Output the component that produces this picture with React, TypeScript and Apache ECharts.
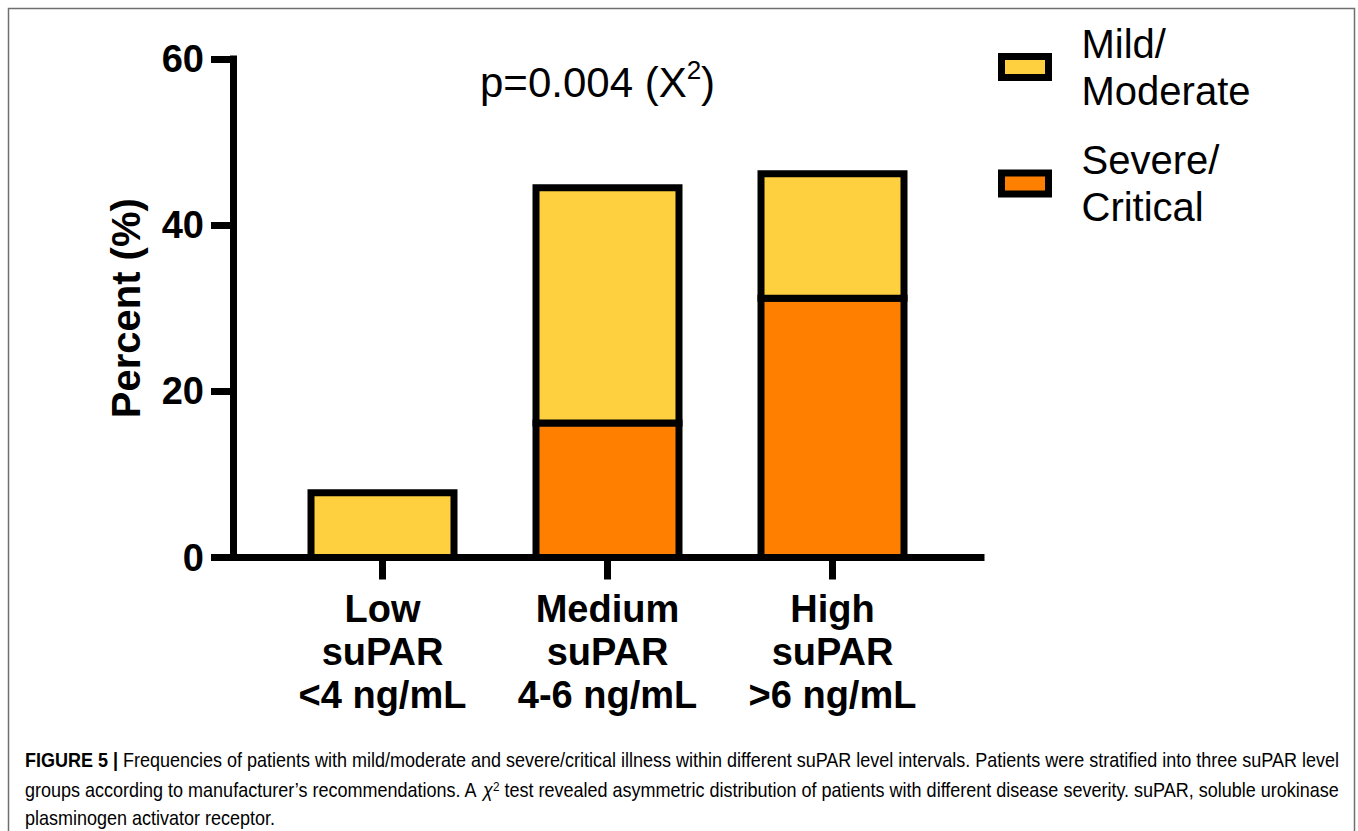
import React, { useEffect, useRef } from "react";
import * as echarts from "echarts";

const categories = ["Low\nsuPAR\n<4 ng/mL", "Medium\nsuPAR\n4-6 ng/mL", "High\nsuPAR\n>6 ng/mL"];
const severeCritical = [0, 16.2, 31.2];
const mildModerate = [7.8, 28.3, 15.0];
const yTicks = { min: 0, max: 60, interval: 20 };
const seriesNames = ["Mild/Moderate", "Severe/Critical"];
const pText = "p=0.004 (X";
const captionBold = "FIGURE 5 | ";
const captionLine1 =
  "Frequencies of patients with mild/moderate and severe/critical illness within different suPAR level intervals. Patients were stratified into three suPAR level";
const captionLine2a = "groups according to manufacturer\u2019s recommendations. A ";
const captionChi = "\u03c7";
const captionLine2b =
  " test revealed asymmetric distribution of patients with different disease severity. suPAR, soluble urokinase";
const captionLine3 = "plasminogen activator receptor.";

const FONT = "'Liberation Sans', Arial, Helvetica, sans-serif";
const YELLOW = "#FECF3E";
const ORANGE = "#FF8000";
const CAP_SIZE = 20;
const CAP_LEFT = 25;
const CAP_RIGHT = 1340;

function measure(text: string, font: string): number {
  const c = document.createElement("canvas").getContext("2d");
  if (!c) return text.length * 9;
  c.font = font;
  return c.measureText(text).width;
}

export default function App() {
  const ref = useRef<HTMLDivElement>(null);
  useEffect(() => {
    document.body.style.margin = "0";
    const chart = echarts.init(ref.current!, null, { renderer: "svg" });

    const regFont = `${CAP_SIZE}px ${FONT}`;
    const boldFont = `bold ${CAP_SIZE}px ${FONT}`;
    const target = CAP_RIGHT - CAP_LEFT;
    const w1 = measure(captionBold, boldFont) + measure(captionLine1, regFont);
    const w2 =
      measure(captionLine2a, regFont) +
      measure(captionChi, `italic ${CAP_SIZE}px ${FONT}`) +
      measure("2", `${CAP_SIZE * 0.65}px ${FONT}`) +
      measure(captionLine2b, regFont);
    const s1 = target / w1;
    const s2 = target / w2;
    const s3 = Math.min(s1, s2);

    const capStyle = { fontFamily: FONT, fontSize: CAP_SIZE, color: "#333" };

    const severeData = categories.map((_, i) => [i, 0, severeCritical[i]]);
    const mildData = categories.map((_, i) => [i, severeCritical[i], severeCritical[i] + mildModerate[i]]);

    const renderSeg = (params: any, api: any) => {
      const cat = api.value(0);
      const base = api.value(1);
      const top = api.value(2);
      if (!(top - base > 0)) return null;
      const p0 = api.coord([cat, base]);
      const p1 = api.coord([cat, top]);
      const w = 143;
      return {
        type: "rect",
        shape: { x: p0[0] - w / 2, y: p1[1], width: w, height: p0[1] - p1[1] },
        style: { fill: api.visual("color"), stroke: "#000", lineWidth: 7 },
      };
    };

    chart.setOption({
      animation: false,
      backgroundColor: "#fff",
      grid: [
        { left: 233, top: 59, width: 748, height: 498.5, containLabel: false },
        { left: 270, top: 59, width: 675, height: 498.5, containLabel: false },
      ],
      xAxis: [
        {
          type: "value",
          gridIndex: 0,
          min: 0,
          max: 1,
          axisLine: { show: true, onZero: true, lineStyle: { color: "#000", width: 7, cap: "square" } },
          axisTick: { show: false },
          axisLabel: { show: false },
          splitLine: { show: false },
        },
        {
          type: "category",
          gridIndex: 1,
          data: categories,
          axisLine: { show: false },
          axisTick: { show: true, alignWithLabel: true, length: 22, lineStyle: { color: "#000", width: 7 } },
          axisLabel: {
            interval: 0,
            margin: 30,
            fontFamily: FONT,
            fontWeight: "bold",
            fontSize: 38,
            lineHeight: 43,
            color: "#000",
          },
          splitLine: { show: false },
        },
      ],
      yAxis: [
        {
          type: "value",
          gridIndex: 0,
          min: yTicks.min,
          max: yTicks.max,
          interval: yTicks.interval,
          name: "Percent (%)",
          nameLocation: "middle",
          nameRotate: 90,
          nameGap: 87,
          nameTextStyle: { fontFamily: FONT, fontWeight: "bold", fontSize: 40, color: "#000" },
          axisLine: { show: true, lineStyle: { color: "#000", width: 7, cap: "square" } },
          axisTick: { show: true, length: 22, lineStyle: { color: "#000", width: 7 } },
          axisLabel: { margin: 29, fontFamily: FONT, fontWeight: "bold", fontSize: 38, color: "#000" },
          splitLine: { show: false },
        },
        {
          type: "value",
          gridIndex: 1,
          min: yTicks.min,
          max: yTicks.max,
          interval: yTicks.interval,
          show: false,
        },
      ],
      legend: {
        orient: "vertical",
        left: 993,
        top: 15,
        itemWidth: 47,
        itemHeight: 21,
        itemGap: 22.5,
        icon: "rect",
        data: seriesNames,
        formatter: (n: string) => n.replace("/", "/\n"),
        itemStyle: { borderColor: "#000", borderWidth: 7 },
        textStyle: { fontFamily: FONT, fontSize: 40, lineHeight: 47, color: "#000", padding: [0, 0, 0, 28] },
        selectedMode: false,
      },
      series: [
        {
          name: seriesNames[1],
          type: "custom",
          xAxisIndex: 1,
          yAxisIndex: 1,
          data: severeData,
          encode: { x: 0, y: [1, 2] },
          itemStyle: { color: ORANGE },
          renderItem: renderSeg,
        },
        {
          name: seriesNames[0],
          type: "custom",
          xAxisIndex: 1,
          yAxisIndex: 1,
          data: mildData,
          encode: { x: 0, y: [1, 2] },
          itemStyle: { color: YELLOW },
          renderItem: renderSeg,
        },
      ],
      graphic: [
        {
          type: "rect",
          shape: { x: 8.5, y: 8.5, width: 1346, height: 900 },
          style: { fill: "none", stroke: "#6f6f6f", lineWidth: 1.5 },
          silent: true,
        },
        {
          type: "text",
          left: 480,
          top: 57,
          style: {
            text: `{a|${pText}}{s|2}{a|)}`,
            rich: {
              a: { fontFamily: FONT, fontSize: 42, lineHeight: 50, color: "#000" },
              s: { fontFamily: FONT, fontSize: 26, verticalAlign: "top", color: "#000" },
            },
          },
        },
        {
          type: "text",
          x: CAP_LEFT,
          y: 760,
          scaleX: s1,
          style: {
            text: `{b|${captionBold}}{r|${captionLine1}}`,
            verticalAlign: "middle",
            rich: {
              b: { ...capStyle, fontWeight: "bold", color: "#1a1a1a" },
              r: { ...capStyle },
            },
          },
        },
        {
          type: "text",
          x: CAP_LEFT,
          y: 790,
          scaleX: s2,
          style: {
            text: `{r|${captionLine2a}}{c|${captionChi}}{s|2}{r|${captionLine2b}}`,
            verticalAlign: "middle",
            rich: {
              r: { ...capStyle },
              c: { ...capStyle, fontStyle: "italic" },
              s: { ...capStyle, fontSize: CAP_SIZE * 0.65, verticalAlign: "top" },
            },
          },
        },
        {
          type: "text",
          x: CAP_LEFT,
          y: 818,
          scaleX: s3,
          style: {
            text: `{r|${captionLine3}}`,
            verticalAlign: "middle",
            rich: { r: { ...capStyle, lineHeight: 22 } },
          },
        },
      ],
    });
    return () => chart.dispose();
  }, []);
  return <div ref={ref} style={{ width: 1358, height: 831 }} />;
}
